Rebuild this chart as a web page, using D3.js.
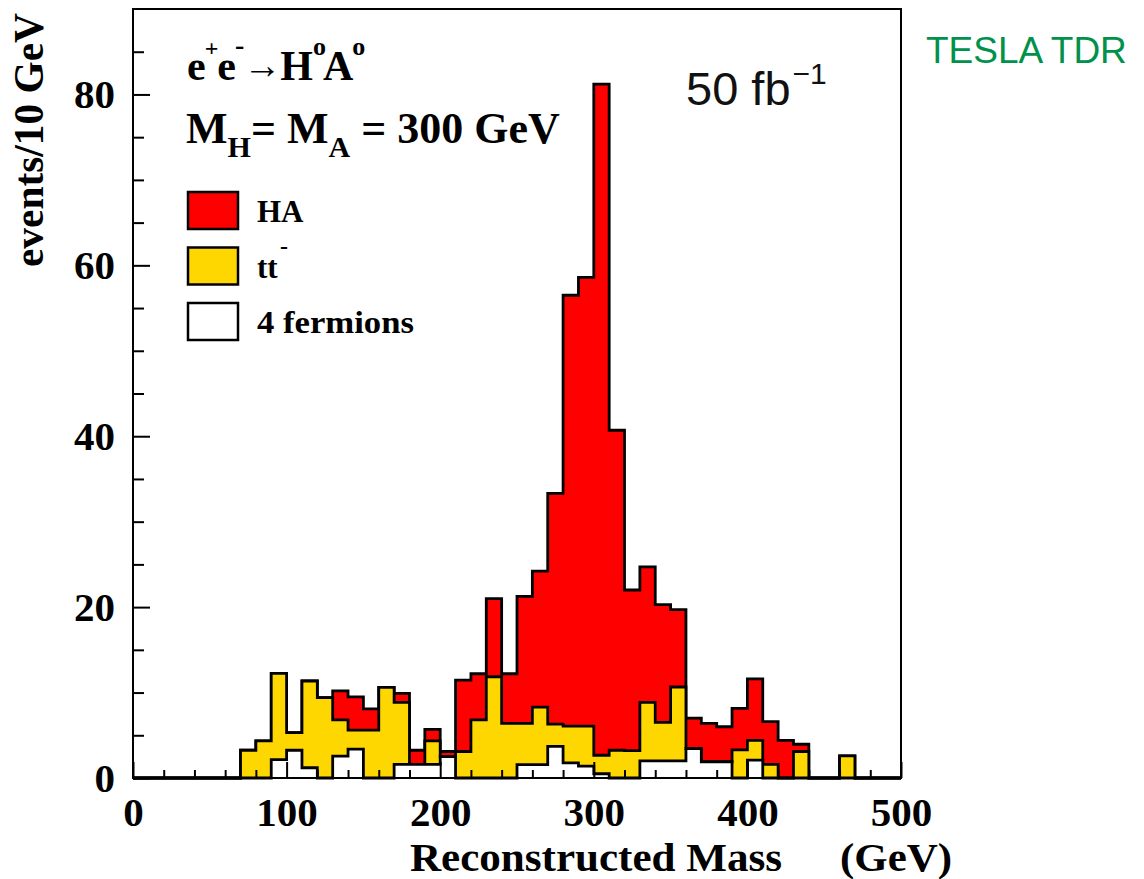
<!DOCTYPE html>
<html>
  <head>
    <meta charset="utf-8">
    <title>HA reconstructed mass</title>
    <style>
body {
  margin: 0;
  background: #fff;
}
.serif {
  font-family: "Liberation Serif", "Times New Roman", serif;
  font-weight: bold;
}
.sans {
  font-family: "Liberation Sans", Arial, sans-serif;
}
    </style>
  </head>
  <body>
    <div id="chart"></div>
    <script src="https://cdn.jsdelivr.net/npm/d3@7"></script>
    <script>

    // lower edges of the 10 GeV bins that have entries
    var binLo = [70, 80, 90, 100, 110, 120, 130, 140, 150, 160, 170, 180, 190,
                 200, 210, 220, 230, 240, 250, 260, 270, 280, 290, 300, 310, 320,
                 330, 340, 350, 360, 370, 380, 390, 400, 410, 420, 430, 440, 450, 460];
    var binWidth = 10;

    // events per bin
    var fermionEvents = [0, 0, 2.15, 3.25, 1.2, 0, 2.55, 3.37, 0, 0, 1.6, 1.6, 1.6,
                         2.5, 0, 0, 0, 0, 1.57, 1.57, 3.7, 1.76, 1.4, 0.5, 0, 0,
                         2.0, 2.0, 2.0, 3.45, 1.9, 1.9, 0, 2.1, 0, 0, 0, 0, 0, 0];
    var ttEvents = [3.25, 4.35, 10.1, 2.05, 10.15, 9.4, 4.25, 2.23, 5.6, 10.6, 7.25, 0, 2.75,
                    0, 3.1, 6.8, 11.85, 6.4, 4.83, 6.73, 2.6, 4.31, 4.67, 2.16, 3.25, 3.2,
                    6.85, 4.5, 8.65, 0, 0, 0, 3.3, 2.3, 1.6, 0, 3.1, 0, 0, 2.6];
    var haEvents = [0, 0, 0, 0, 0, 0, 3.4, 3.9, 2.5, 0, 1.05, 1.65, 1.35,
                    0.6, 8.35, 5.4, 9.15, 5.8, 14.85, 15.9, 27.0, 50.43, 52.53, 78.54, 37.45, 18.8,
                    15.85, 13.8, 9.05, 3.55, 4.5, 4.1, 4.85, 7.2, 5.0, 4.4, 0.85, 0, 0, 0];

    var yMajor = [0, 20, 40, 60, 80];
    var xMajor = [0, 100, 200, 300, 400, 500];

    var legendItems = [
      { label: 'HA', color: '#ff0000' },
      { label: 'tt', color: '#ffd700', bar: true },
      { label: '4 fermions', color: '#ffffff' }
    ];

    var width = 1144, height = 879;
    var frameL = 133, frameR = 901, frameT = 9, frameB = 778;

    var svg = d3.select('#chart').append('svg')
        .attr('width', width)
        .attr('height', height);

    var x = d3.scaleLinear().domain([0, 500]).range([frameL, frameR]);
    var y = d3.scaleLinear().domain([0, 90]).range([frameB, frameT]);

    // cumulative stacks: 4f, 4f + tt, total
    var stack1 = fermionEvents.slice();
    var stack2 = stack1.map(function(v, i) { return v + ttEvents[i]; });
    var stack3 = stack2.map(function(v, i) { return v + haEvents[i]; });

    function steps(vals) {
      var first = binLo[0], last = binLo[binLo.length - 1] + binWidth;
      var pts = [{ m: 0, v: 0 }, { m: first, v: 0 }];
      binLo.forEach(function(lo, i) {
        pts.push({ m: lo, v: vals[i] }, { m: lo + binWidth, v: vals[i] });
      });
      pts.push({ m: last, v: 0 }, { m: 500, v: 0 });
      return pts;
    }

    var line = d3.line()
        .x(function(d) { return x(d.m); })
        .y(function(d) { return y(d.v); });

    var hists = [
      { vals: stack3, color: '#ff0000' },
      { vals: stack2, color: '#ffd700' },
      { vals: stack1, color: '#ffffff' }
    ];

    svg.selectAll('path.hist')
        .data(hists)
        .enter()
        .append('path')
          .attr('class', 'hist')
          .attr('d', function(d) { return line(steps(d.vals)); })
          .style('fill', function(d) { return d.color; })
          .style('stroke', '#000')
          .style('stroke-width', 2.8)
          .style('stroke-linejoin', 'miter');

    // frame
    svg.append('rect')
        .attr('x', frameL)
        .attr('y', frameT)
        .attr('width', frameR - frameL)
        .attr('height', frameB - frameT)
        .style('fill', 'none')
        .style('stroke', '#000')
        .style('stroke-width', 2);

    // y axis
    var yMinor = d3.range(5, 90, 5).filter(function(v) { return v % 20 !== 0; });
    svg.append('g')
        .attr('transform', 'translate(' + frameL + ',0)')
        .call(d3.axisLeft(y).tickValues(yMajor).tickSize(-17).tickPadding(18));
    svg.append('g')
        .attr('transform', 'translate(' + frameL + ',0)')
        .call(d3.axisLeft(y).tickValues(yMinor).tickSize(-11).tickFormat(''));

    // x axis
    var xMinor = d3.range(20, 500, 20).filter(function(v) { return v % 100 !== 0; });
    svg.append('g')
        .attr('transform', 'translate(0,' + frameB + ')')
        .call(d3.axisBottom(x).tickValues(xMajor).tickSize(-16).tickPadding(19));
    svg.append('g')
        .attr('transform', 'translate(0,' + frameB + ')')
        .call(d3.axisBottom(x).tickValues(xMinor).tickSize(-8).tickFormat(''));

    svg.selectAll('.domain').remove();
    svg.selectAll('.tick line').style('stroke', '#000').style('stroke-width', 2);
    svg.selectAll('.tick text')
        .attr('class', 'serif')
        .style('font-size', '41px')
        .style('fill', '#000');

    // axis titles
    svg.append('text')
        .attr('class', 'serif')
        .attr('transform', 'translate(43,140) rotate(-90)')
        .attr('text-anchor', 'middle')
        .attr('textLength', 254)
        .attr('lengthAdjust', 'spacingAndGlyphs')
        .style('font-size', '43px')
        .text('events/10 GeV');

    svg.append('text')
        .attr('class', 'serif')
        .attr('x', 410)
        .attr('y', 871)
        .attr('textLength', 372)
        .attr('lengthAdjust', 'spacingAndGlyphs')
        .style('font-size', '41px')
        .text('Reconstructed Mass');

    svg.append('text')
        .attr('class', 'serif')
        .attr('x', 840)
        .attr('y', 871)
        .attr('textLength', 112)
        .attr('lengthAdjust', 'spacingAndGlyphs')
        .style('font-size', '41px')
        .text('(GeV)');

    // process label
    var t1 = svg.append('text')
        .attr('class', 'serif')
        .attr('x', 187)
        .attr('y', 80)
        .style('font-size', '42px');
    t1.append('tspan').text('e');
    t1.append('tspan').attr('dy', -24).attr('dx', -1).style('font-size', '24px').text('+');
    t1.append('tspan').attr('dy', 24).attr('dx', -1).text('e');
    t1.append('tspan').attr('dy', -26).attr('dx', -1).style('font-size', '28px').text('-');
    t1.append('tspan').attr('dy', 24).attr('dx', -1).style('font-size', '38px')
        .style('font-weight', 'normal').text('\u2192');
    t1.append('tspan').attr('dy', 2).attr('dx', -1).text('H');
    t1.append('tspan').attr('dy', -25).attr('dx', 0).style('font-size', '26px').text('o');
    t1.append('tspan').attr('dy', 25).attr('dx', -3).text('A');
    t1.append('tspan').attr('dy', -25).attr('dx', -1).style('font-size', '26px').text('o');

    var t2 = svg.append('text')
        .attr('class', 'serif')
        .attr('x', 186)
        .attr('y', 143)
        .style('font-size', '44px');
    t2.append('tspan').text('M');
    t2.append('tspan').attr('dy', 14).style('font-size', '30px').text('H');
    t2.append('tspan').attr('dy', -14).text('= M');
    t2.append('tspan').attr('dy', 14).style('font-size', '30px').text('A');
    t2.append('tspan').attr('dy', -14).text(' = 300 GeV');

    // legend
    var leg = svg.selectAll('g.leg')
        .data(legendItems)
        .enter()
        .append('g')
          .attr('class', 'leg')
          .attr('transform', function(d, i) { return 'translate(188,' + (192 + i * 55.5) + ')'; });

    leg.append('rect')
        .attr('width', 50)
        .attr('height', 37)
        .style('fill', function(d) { return d.color; })
        .style('stroke', '#000')
        .style('stroke-width', 2.5);

    var legText = leg.append('text')
        .attr('class', 'serif')
        .attr('x', 69)
        .attr('y', 30)
        .style('font-size', '31px')
        .text(function(d) { return d.label; });
    legText.filter(function(d) { return d.label.length > 5; })
        .attr('textLength', 157)
        .attr('lengthAdjust', 'spacingAndGlyphs');
    leg.filter(function(d) { return d.bar; })
        .append('text')
          .attr('class', 'serif')
          .attr('x', 92)
          .attr('y', 6)
          .style('font-size', '24px')
          .text('-');

    // luminosity
    var lumi = svg.append('text')
        .attr('class', 'sans')
        .attr('x', 686)
        .attr('y', 105)
        .style('font-size', '47px')
        .style('fill', '#111');
    lumi.append('tspan').text('50 fb');
    lumi.append('tspan').attr('dy', -21).attr('dx', 2).style('font-size', '30px').text('\u22121');

    svg.append('text')
        .attr('class', 'sans')
        .attr('x', 926)
        .attr('y', 63)
        .style('font-size', '37px')
        .style('fill', '#00914b')
        .text('TESLA TDR');

    </script>
  </body>
</html>
